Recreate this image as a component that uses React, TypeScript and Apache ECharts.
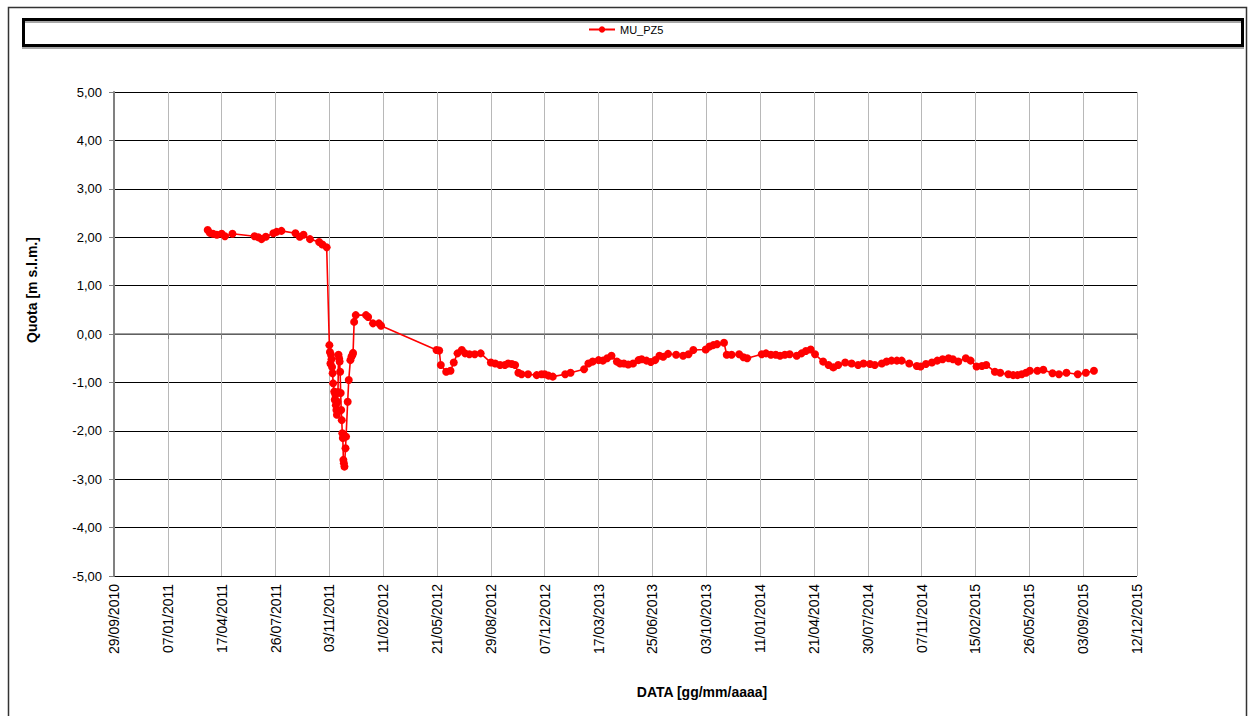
import React, { useEffect, useRef } from "react";
import * as echarts from "echarts";

const seriesName = "MU_PZ5";
const xAxisTitle = "DATA [gg/mm/aaaa]";
const yAxisTitle = "Quota [m s.l.m.]";

// axis range (dates) and tick spacing in days
const xStart = "2010-09-29";
const xEnd = "2015-12-12";
const xTickDays = 100;
const yMin = -5;
const yMax = 5;
const yStep = 1;

// measurement dates
const dates = [
  "2011-03-22", "2011-03-26", "2011-04-01", "2011-04-08", "2011-04-17", "2011-04-23", "2011-05-07",
  "2011-06-17", "2011-06-24", "2011-06-30", "2011-07-08", "2011-07-22", "2011-07-28", "2011-08-06",
  "2011-09-01", "2011-09-09", "2011-09-16", "2011-09-28", "2011-10-15", "2011-10-21", "2011-10-29",
  "2011-11-03", "2011-11-04", "2011-11-05", "2011-11-06", "2011-11-07", "2011-11-08", "2011-11-09",
  "2011-11-10", "2011-11-12", "2011-11-13", "2011-11-14", "2011-11-15", "2011-11-16", "2011-11-17",
  "2011-11-18", "2011-11-19", "2011-11-20", "2011-11-21", "2011-11-22", "2011-11-23", "2011-11-24",
  "2011-11-25", "2011-11-26", "2011-11-27", "2011-11-28", "2011-11-29", "2011-11-30", "2011-12-01",
  "2011-12-03", "2011-12-04", "2011-12-07", "2011-12-09", "2011-12-12", "2011-12-14", "2011-12-16",
  "2011-12-17", "2011-12-19", "2011-12-22", "2012-01-10", "2012-01-14", "2012-01-23", "2012-02-03",
  "2012-02-07", "2012-05-20", "2012-05-25", "2012-05-28", "2012-06-07", "2012-06-15", "2012-06-21",
  "2012-06-28", "2012-07-06", "2012-07-12", "2012-07-20", "2012-07-30", "2012-08-10", "2012-08-29",
  "2012-09-06", "2012-09-15", "2012-09-24", "2012-09-30", "2012-10-07", "2012-10-13", "2012-10-19",
  "2012-10-25", "2012-11-06", "2012-11-22", "2012-12-01", "2012-12-07", "2012-12-14", "2012-12-22",
  "2013-01-14", "2013-01-24", "2013-02-18", "2013-02-26", "2013-03-06", "2013-03-17", "2013-03-25",
  "2013-04-02", "2013-04-10", "2013-04-20", "2013-04-26", "2013-05-03", "2013-05-11", "2013-05-20",
  "2013-05-30", "2013-06-05", "2013-06-14", "2013-06-22", "2013-06-30", "2013-07-08", "2013-07-15",
  "2013-07-24", "2013-08-08", "2013-08-21", "2013-08-31", "2013-09-09", "2013-10-02", "2013-10-09",
  "2013-10-16", "2013-10-23", "2013-11-05", "2013-11-10", "2013-11-19", "2013-12-03", "2013-12-11",
  "2013-12-18", "2014-01-14", "2014-01-22", "2014-01-31", "2014-02-09", "2014-02-17", "2014-02-26",
  "2014-03-07", "2014-03-20", "2014-03-29", "2014-04-06", "2014-04-15", "2014-04-23", "2014-05-08",
  "2014-05-18", "2014-05-27", "2014-06-05", "2014-06-18", "2014-06-30", "2014-07-12", "2014-07-22",
  "2014-08-03", "2014-08-12", "2014-08-25", "2014-09-03", "2014-09-12", "2014-09-22", "2014-10-01",
  "2014-10-15", "2014-10-29", "2014-11-05", "2014-11-15", "2014-11-26", "2014-12-06", "2014-12-16",
  "2014-12-27", "2015-01-04", "2015-01-14", "2015-01-28", "2015-02-06", "2015-02-17", "2015-02-27",
  "2015-03-07", "2015-03-23", "2015-04-02", "2015-04-17", "2015-04-26", "2015-05-04", "2015-05-12",
  "2015-05-20", "2015-05-27", "2015-06-10", "2015-06-21", "2015-07-08", "2015-07-20", "2015-08-03",
  "2015-08-24", "2015-09-08", "2015-09-23",
];

// water level values [m s.l.m.]
const values = [
  2.15, 2.09, 2.07, 2.05, 2.07, 2.02, 2.07,
  2.02, 2.0, 1.96, 2.01, 2.08, 2.11, 2.13,
  2.08, 2.01, 2.05, 1.96, 1.9, 1.85, 1.79,
  -0.23, -0.37, -0.61, -0.43, -0.52, -0.68, -0.81,
  -1.02, -1.19, -1.36, -1.25, -1.47, -1.57, -1.67,
  -1.4, -1.2, -0.43, -0.5, -0.57, -0.78, -1.22,
  -1.57, -1.78, -2.05, -2.15, -2.6, -2.67, -2.74,
  -2.36, -2.12, -1.4, -0.95, -0.54, -0.47, -0.43,
  -0.39, 0.25, 0.39, 0.39, 0.35, 0.22, 0.22,
  0.17, -0.33, -0.34, -0.64, -0.78, -0.76, -0.59,
  -0.4, -0.33, -0.4, -0.42, -0.42, -0.4, -0.59,
  -0.61, -0.64, -0.64, -0.61, -0.62, -0.64, -0.8,
  -0.83, -0.83, -0.85, -0.83, -0.83, -0.86, -0.88,
  -0.83, -0.8, -0.73, -0.61, -0.57, -0.54, -0.55,
  -0.5, -0.45, -0.57, -0.61, -0.61, -0.63, -0.61,
  -0.54, -0.52, -0.55, -0.58, -0.54, -0.45, -0.47,
  -0.41, -0.43, -0.45, -0.42, -0.33, -0.32, -0.26,
  -0.23, -0.21, -0.18, -0.43, -0.43, -0.42, -0.48,
  -0.5, -0.42, -0.4, -0.43, -0.43, -0.45, -0.43,
  -0.42, -0.45, -0.4, -0.35, -0.32, -0.42, -0.57,
  -0.64, -0.69, -0.64, -0.59, -0.61, -0.64, -0.61,
  -0.62, -0.64, -0.61, -0.57, -0.55, -0.55, -0.55,
  -0.61, -0.66, -0.67, -0.62, -0.59, -0.55, -0.52,
  -0.5, -0.52, -0.57, -0.5, -0.55, -0.67, -0.66,
  -0.64, -0.78, -0.8, -0.83, -0.85, -0.85, -0.83,
  -0.8, -0.76, -0.76, -0.74, -0.81, -0.83, -0.8,
  -0.83, -0.8, -0.76,
];

const DAY = 86400000;
const toUTC = (s: string) => {
  const [y, m, d] = s.split("-").map(Number);
  return Date.UTC(y, m - 1, d);
};
const base = toUTC(xStart);
const toDay = (s: string) => Math.round((toUTC(s) - base) / DAY);
const pad = (n: number) => (n < 10 ? "0" + n : "" + n);
const fmtDay = (v: number) => {
  const dt = new Date(base + Math.round(v) * DAY);
  return pad(dt.getUTCDate()) + "/" + pad(dt.getUTCMonth() + 1) + "/" + dt.getUTCFullYear();
};

const FONT = "'Liberation Sans', Arial, sans-serif";

export default function App() {
  const ref = useRef<HTMLDivElement>(null);
  useEffect(() => {
    if (!ref.current) return;
    const chart = echarts.init(ref.current, null, { renderer: "svg" });
    const data = dates.map((d, i) => [toDay(d), values[i]]);
    chart.setOption({
      animation: false,
      backgroundColor: "#ffffff",
      textStyle: { fontFamily: FONT },
      grid: { left: 114, right: 113, top: 92, bottom: 140, containLabel: false },
      legend: {
        top: 19,
        left: 583,
        itemWidth: 26,
        itemHeight: 8,
        itemGap: 4,
        textStyle: { fontSize: 11, color: "#000", fontFamily: FONT },
        data: [seriesName],
      },
      xAxis: {
        type: "value",
        min: 0,
        max: toDay(xEnd),
        interval: xTickDays,
        axisLine: { show: true, lineStyle: { color: "#808080", width: 1.5 } },
        axisTick: { show: true, length: 5, lineStyle: { color: "#808080" } },
        axisLabel: {
          rotate: 90,
          formatter: (v: number) => fmtDay(v),
          fontSize: 14,
          color: "#000",
          fontFamily: FONT,
          margin: 8,
        },
        splitLine: { show: true, lineStyle: { color: "#b8b8b8", width: 1 } },
      },
      yAxis: {
        type: "value",
        min: yMin,
        max: yMax,
        interval: yStep,
        axisLine: { show: true, lineStyle: { color: "#808080", width: 2 } },
        axisTick: { show: true, length: 5, lineStyle: { color: "#808080" } },
        axisLabel: {
          formatter: (v: number) => v.toFixed(2).replace(".", ","),
          fontSize: 13,
          color: "#000",
          fontFamily: FONT,
          margin: 12,
        },
        splitLine: { show: true, lineStyle: { color: "#000000", width: 1.2 } },
      },
      series: [
        {
          name: seriesName,
          type: "line",
          data,
          symbol: "circle",
          symbolSize: 8,
          lineStyle: { color: "#ff0000", width: 1.6 },
          itemStyle: { color: "#ff0000" },
        },
      ],
      graphic: [
        {
          type: "rect",
          left: 6,
          top: 5,
          shape: { width: 1238, height: 730 },
          style: { fill: "none", stroke: "#333333", lineWidth: 1.5 },
          silent: true,
          z: -1,
        },
        {
          type: "rect",
          left: 21,
          top: 17,
          shape: { width: 1219, height: 26 },
          style: {
            fill: "none",
            stroke: "#000000",
            lineWidth: 3,
            shadowColor: "rgba(0,0,0,0.35)",
            shadowOffsetY: 2,
            shadowBlur: 1,
          },
          silent: true,
        },
        {
          type: "text",
          x: 32,
          y: 290,
          rotation: Math.PI / 2,
          style: {
            text: yAxisTitle,
            font: "bold 14px " + FONT,
            fill: "#000",
            textAlign: "center",
            textVerticalAlign: "middle",
          },
        },
        {
          type: "text",
          x: 702,
          y: 692,
          style: {
            text: xAxisTitle,
            font: "bold 14px " + FONT,
            fill: "#000",
            textAlign: "center",
            textVerticalAlign: "middle",
          },
        },
      ],
    });
    return () => chart.dispose();
  }, []);
  return (
    <div
      ref={ref}
      style={{ position: "absolute", left: 0, top: 0, width: 1250, height: 716 }}
    />
  );
}
